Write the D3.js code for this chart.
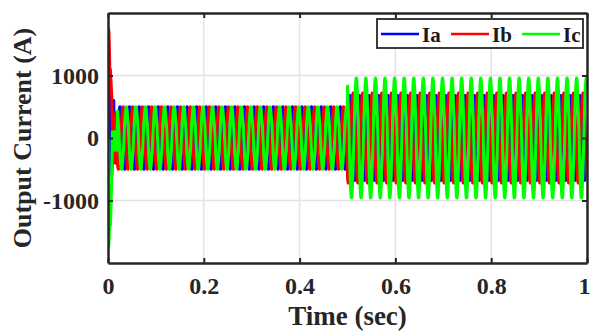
<!DOCTYPE html>
<html>
<head>
<meta charset="utf-8">
<script src="https://cdn.jsdelivr.net/npm/d3@7"></script>
<style>
  body { margin: 0; background: #fff; }
  text { font-family: "Liberation Serif", "Times New Roman", serif; font-weight: bold; }
</style>
</head>
<body>
<svg id="chart" width="591" height="331"></svg>
<script>
// values
var xTicks = [0, 0.2, 0.4, 0.6, 0.8, 1];
var yTicks = [-1000, 0, 1000];
var phaseNames = ["Ia", "Ib", "Ic"];
var phaseColors = ["#0000ff", "#ff0000", "#00ff00"];
var phaseShiftDeg = [0, -120, 120];
var freqHz = 50;

// start-up transient samples (sec, A)
var transT = [0, 0.001, 0.002, 0.003, 0.004, 0.005, 0.006, 0.007, 0.008, 0.009, 0.010, 0.012, 0.014, 0.016, 0.018];
var transIa = [0, 300, 700, 950, 1000, 800, 400, -200, -600, -300, 400, 600, -300, -400, 300];
var transIb = [0, 1750, 1700, 1400, 1000, 1100, 950, 800, 650, 200, -300, -400, 200, 400, -100];
var transIc = [0, -1750, -1700, -1500, -1400, -1400, -1200, -900, -500, 100, 0, -200, 100, 0, -200];

// steady state amplitudes per load step
var stepStart = [0.02, 0.5];
var stepEnd = [0.5, 1.0];
var ampIa = [500, 680];
var ampIb = [500, 720];
var ampIc = [500, 960];

var svg = d3.select("#chart");
var margin = {top: 13, right: 4, bottom: 68, left: 108};
var W = 591, H = 331;

var x = d3.scaleLinear().domain([0, 1]).range([margin.left, W - margin.right]);
var y = d3.scaleLinear().domain([-2000, 2000]).range([H - margin.bottom, margin.top]);

// grid
svg.append("g").selectAll("line").data(xTicks.slice(1, -1)).enter().append("line")
  .attr("x1", d => x(d)).attr("x2", d => x(d))
  .attr("y1", y(2000)).attr("y2", y(-2000))
  .attr("stroke", "#e3e3e3").attr("stroke-width", 1.5);
svg.append("g").selectAll("line").data(yTicks).enter().append("line")
  .attr("x1", x(0)).attr("x2", x(1))
  .attr("y1", d => y(d)).attr("y2", d => y(d))
  .attr("stroke", "#e3e3e3").attr("stroke-width", 1.5);

// build signals
var trans = [transIa, transIb, transIc];
var amps = [ampIa, ampIb, ampIc];
var step = 0.0004;

function phaseData(p) {
  var pts = transT.map((t, i) => [t, trans[p][i]]);
  var ph = phaseShiftDeg[p] * Math.PI / 180;
  for (var s = 0; s < stepStart.length; s++) {
    for (var t = stepStart[s]; t <= stepEnd[s] + 1e-9; t += step) {
      pts.push([t, amps[p][s] * Math.sin(2 * Math.PI * freqHz * t + ph)]);
    }
  }
  return pts;
}

var line = d3.line().x(d => x(d[0])).y(d => y(d[1]));

svg.append("defs").append("clipPath").attr("id", "clip")
  .append("rect").attr("x", x(0)).attr("y", y(2000))
  .attr("width", x(1) - x(0)).attr("height", y(-2000) - y(2000));

var plot = svg.append("g").attr("clip-path", "url(#clip)");
phaseNames.forEach(function(n, p) {
  plot.append("path")
    .datum(phaseData(p))
    .attr("fill", "none")
    .attr("stroke", phaseColors[p])
    .attr("stroke-width", 3)
    .attr("stroke-linejoin", "round")
    .attr("d", line);
});

// axes (MATLAB-style box with inward ticks)
var xAxis = svg.append("g").attr("transform", "translate(0," + y(-2000) + ")")
  .call(d3.axisBottom(x).tickValues(xTicks).tickFormat(d => String(d)).tickSizeInner(-5).tickSizeOuter(0).tickPadding(14));
var xTop = svg.append("g").attr("transform", "translate(0," + y(2000) + ")")
  .call(d3.axisTop(x).tickValues(xTicks).tickFormat("").tickSizeInner(-5).tickSizeOuter(0));
var yAxis = svg.append("g").attr("transform", "translate(" + x(0) + ",0)")
  .call(d3.axisLeft(y).tickValues(yTicks).tickFormat(d => String(d)).tickSizeInner(-5).tickSizeOuter(0).tickPadding(9));
var yRight = svg.append("g").attr("transform", "translate(" + x(1) + ",0)")
  .call(d3.axisRight(y).tickValues(yTicks).tickFormat("").tickSizeInner(-5).tickSizeOuter(0));

[xAxis, xTop, yAxis, yRight].forEach(function(g) {
  g.select(".domain").attr("stroke", "#262626").attr("stroke-width", 2.5);
  g.selectAll(".tick line").attr("stroke", "#262626").attr("stroke-width", 2);
  g.selectAll("text").attr("fill", "#262626").style("font-size", "24px")
    .style("font-family", "'Liberation Serif', serif").style("font-weight", "bold");
});
// keep the last x label inside the page
xAxis.selectAll(".tick text").filter(d => d === 1).attr("text-anchor", "end").attr("dx", 3);

// axis titles
svg.append("text").attr("x", x(0.5)).attr("y", 325)
  .attr("text-anchor", "middle").attr("fill", "#262626")
  .style("font-size", "27px").text("Time (sec)");
svg.append("text").attr("transform", "translate(31," + ((y(2000) + y(-2000)) / 2) + ") rotate(-90)")
  .attr("text-anchor", "middle").attr("fill", "#262626")
  .style("font-size", "26px").text("Output Current (A)");

// legend
var leg = svg.append("g");
leg.append("rect").attr("x", 377).attr("y", 19).attr("width", 206).attr("height", 29)
  .attr("fill", "#fff").attr("stroke", "#262626").attr("stroke-width", 1.8);
var legX = [381, 451, 522];
phaseNames.forEach(function(n, p) {
  leg.append("line").attr("x1", legX[p]).attr("x2", legX[p] + 38)
    .attr("y1", 34).attr("y2", 34)
    .attr("stroke", phaseColors[p]).attr("stroke-width", 2.5);
  leg.append("text").attr("x", legX[p] + 41).attr("y", 42)
    .attr("fill", "#1a1a1a").style("font-size", "21px").text(n);
});
</script>
</body>
</html>
